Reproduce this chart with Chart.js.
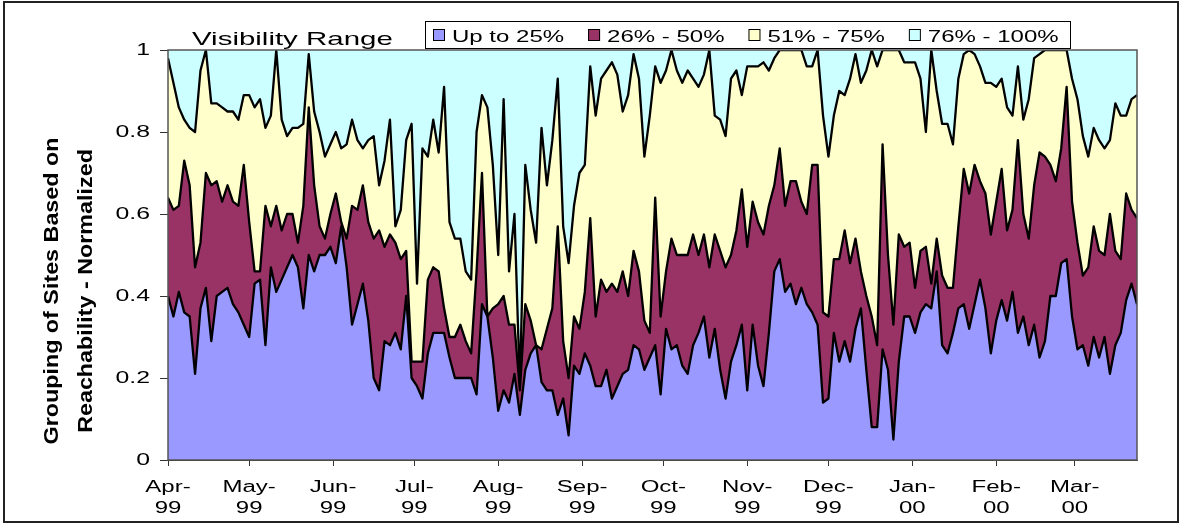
<!DOCTYPE html>
<html>
<head>
<meta charset="utf-8">
<title>Visibility Range</title>
<script src="https://cdn.jsdelivr.net/npm/chart.js@4.4.0/dist/chart.umd.min.js"></script>
<style>
  html, body { margin: 0; padding: 0; background: #fff; }
  #wrap { position: relative; width: 1183px; height: 529px; }
</style>
</head>
<body>
<div id="wrap"><canvas id="visChart" width="1183" height="529"></canvas></div>
<script>
// series names and colours (Excel classic palette)
const seriesNames = ["Up to 25%", "26% - 50%", "51% - 75%", "76% - 100%"];
const seriesColors = ["#9999ff", "#993366", "#ffffcc", "#ccffff"];

// month ticks: day offset from 1 Apr 1999 and two-line labels
const monthStartDays = [0, 30, 61, 91, 122, 153, 183, 214, 244, 275, 306, 335];
const monthLabels = [
  ["Apr-", "99"], ["May-", "99"], ["Jun-", "99"], ["Jul-", "99"],
  ["Aug-", "99"], ["Sep-", "99"], ["Oct-", "99"], ["Nov-", "99"],
  ["Dec-", "99"], ["Jan-", "00"], ["Feb-", "00"], ["Mar-", "00"]
];
const yTickLabels = ["0", "0.2", "0.4", "0.6", "0.8", "1"];

// cumulative shares, one sample every 2 days
const upTo25 = [
  0.40,0.35,0.41,0.36,0.35,0.21,0.37,0.42,0.29,0.40,
  0.41,0.42,0.38,0.36,0.33,0.30,0.43,0.44,0.28,0.47,
  0.41,0.44,0.47,0.50,0.47,0.37,0.50,0.46,0.50,0.50,
  0.52,0.48,0.57,0.47,0.33,0.38,0.43,0.34,0.20,0.17,
  0.29,0.28,0.31,0.27,0.40,0.20,0.18,0.15,0.26,0.31,
  0.31,0.31,0.25,0.20,0.20,0.20,0.20,0.16,0.38,0.35,
  0.25,0.12,0.17,0.14,0.21,0.11,0.22,0.26,0.28,0.19,
  0.17,0.17,0.11,0.15,0.06,0.23,0.21,0.26,0.23,0.18,
  0.18,0.22,0.15,0.18,0.21,0.22,0.28,0.27,0.22,0.25,
  0.28,0.16,0.32,0.27,0.28,0.23,0.21,0.28,0.31,0.35,
  0.25,0.32,0.22,0.15,0.24,0.28,0.33,0.17,0.33,0.23,
  0.18,0.31,0.46,0.49,0.41,0.43,0.38,0.42,0.38,0.36,
  0.33,0.14,0.15,0.31,0.24,0.29,0.24,0.32,0.37,0.22,
  0.08,0.08,0.27,0.22,0.05,0.24,0.35,0.35,0.31,0.36,
  0.38,0.37,0.46,0.28,0.26,0.31,0.37,0.38,0.32,0.38,
  0.44,0.37,0.26,0.34,0.39,0.34,0.41,0.31,0.35,0.28,
  0.33,0.25,0.29,0.40,0.40,0.48,0.49,0.35,0.27,0.28,
  0.23,0.30,0.25,0.30,0.21,0.28,0.31,0.39,0.43,0.38
];
const upTo50 = [
  0.64,0.61,0.62,0.73,0.67,0.47,0.53,0.70,0.67,0.68,
  0.63,0.67,0.63,0.62,0.72,0.58,0.46,0.46,0.62,0.57,
  0.62,0.56,0.60,0.60,0.53,0.62,0.86,0.67,0.57,0.54,
  0.60,0.65,0.58,0.54,0.62,0.61,0.67,0.58,0.54,0.56,
  0.52,0.55,0.53,0.49,0.51,0.24,0.24,0.24,0.44,0.47,
  0.46,0.37,0.30,0.30,0.33,0.29,0.26,0.46,0.70,0.35,
  0.37,0.38,0.40,0.33,0.33,0.17,0.38,0.34,0.28,0.27,
  0.32,0.37,0.57,0.29,0.20,0.35,0.32,0.41,0.59,0.35,
  0.44,0.41,0.43,0.41,0.46,0.40,0.51,0.46,0.34,0.31,
  0.64,0.35,0.46,0.54,0.50,0.50,0.50,0.55,0.50,0.55,
  0.47,0.55,0.51,0.47,0.50,0.56,0.66,0.52,0.63,0.58,
  0.55,0.62,0.67,0.76,0.62,0.68,0.68,0.63,0.60,0.72,
  0.72,0.36,0.35,0.49,0.49,0.56,0.48,0.54,0.46,0.40,
  0.35,0.28,0.77,0.50,0.33,0.55,0.52,0.53,0.42,0.51,
  0.52,0.43,0.54,0.45,0.42,0.42,0.57,0.71,0.65,0.72,
  0.68,0.65,0.55,0.63,0.71,0.56,0.61,0.78,0.60,0.54,
  0.67,0.75,0.74,0.72,0.68,0.76,0.91,0.63,0.53,0.45,
  0.47,0.57,0.51,0.50,0.60,0.51,0.49,0.65,0.61,0.59
];
const upTo75 = [
  0.98,0.92,0.86,0.83,0.81,0.80,0.95,1.00,0.87,0.87,
  0.86,0.85,0.85,0.83,0.89,0.89,0.86,0.88,0.81,0.84,
  1.00,0.83,0.79,0.81,0.81,0.82,0.99,0.85,0.80,0.74,
  0.77,0.80,0.76,0.77,0.83,0.78,0.76,0.78,0.79,0.67,
  0.73,0.83,0.57,0.61,0.78,0.82,0.43,0.76,0.74,0.83,
  0.75,0.91,0.58,0.54,0.54,0.46,0.44,0.80,0.89,0.86,
  0.72,0.50,0.88,0.46,0.60,0.18,0.72,0.61,0.53,0.81,
  0.67,0.78,0.93,0.57,0.48,0.62,0.70,0.72,0.96,0.84,
  0.93,0.95,0.97,0.94,0.85,0.89,0.99,0.93,0.74,0.84,
  0.96,0.92,0.95,1.00,0.95,0.92,0.95,0.93,0.91,0.94,
  1.00,0.84,0.83,0.79,0.93,0.95,0.89,0.96,0.96,0.96,
  0.97,0.95,0.98,1.00,1.00,1.00,1.00,1.00,0.96,0.96,
  1.00,0.84,0.74,0.84,0.90,0.89,0.93,0.99,0.92,0.95,
  1.00,0.96,1.00,1.00,1.00,1.00,0.97,0.97,0.97,0.93,
  0.80,1.00,0.90,0.82,0.82,0.77,0.93,0.99,1.00,0.99,
  0.96,0.92,0.92,0.91,0.93,0.86,0.84,0.96,0.83,0.88,
  0.98,0.99,1.00,1.00,1.00,1.00,1.00,0.93,0.88,0.79,
  0.74,0.81,0.78,0.76,0.78,0.87,0.84,0.84,0.88,0.89
];

// sample days (every second day) and the normalised total
const sampleDays = upTo25.map((v, i) => i * 2);
const total = upTo25.map(() => 1);

function toPoints(values) {
  return values.map((v, i) => ({ x: sampleDays[i], y: v }));
}

// draw text stretched horizontally, like the scaled-up original
function drawText(ctx, text, x, y, font, sx, align, baseline) {
  ctx.save();
  ctx.translate(x, y);
  ctx.scale(sx, 1);
  ctx.font = font;
  ctx.fillStyle = "#000";
  ctx.textAlign = align || "left";
  ctx.textBaseline = baseline || "alphabetic";
  ctx.fillText(text, 0, 0);
  ctx.restore();
}

const FONT = "'Liberation Sans', Arial, sans-serif";

const decorPlugin = {
  id: "decor",
  afterDraw(chart) {
    const ctx = chart.ctx;
    const area = chart.chartArea;
    const xs = chart.scales.x;
    const ys = chart.scales.y;

    // plot frame
    ctx.save();
    ctx.strokeStyle = "#555";
    ctx.lineWidth = 1.5;
    ctx.strokeRect(area.left, area.top, area.right - area.left, area.bottom - area.top);
    // outer frame
    ctx.strokeStyle = "#222";
    ctx.lineWidth = 2;
    ctx.strokeRect(4, 2, 1174, 520);
    ctx.restore();

    // y tick labels
    ys.ticks.forEach((t, i) => {
      drawText(ctx, yTickLabels[i], 150, ys.getPixelForValue(t.value) + 1,
        "16px " + FONT, 1.55, "right", "middle");
    });

    // x tick labels
    monthStartDays.forEach((d, i) => {
      const px = xs.getPixelForValue(d);
      drawText(ctx, monthLabels[i][0], px, 492, "16px " + FONT, 1.5, "center");
      drawText(ctx, monthLabels[i][1], px, 513, "16px " + FONT, 1.5, "center");
    });

    // y axis title, two rotated lines
    ctx.save();
    ctx.font = "bold 20px " + FONT;
    const w1 = ctx.measureText("Grouping of Sites Based on").width;
    const stretch = 307 / w1;
    [["Grouping of Sites Based on", 52], ["Reachability - Normalized", 86]].forEach(([txt, x]) => {
      ctx.save();
      ctx.translate(x, 291);
      ctx.rotate(-Math.PI / 2);
      ctx.scale(stretch, 1);
      ctx.font = "bold 20px " + FONT;
      ctx.fillStyle = "#000";
      ctx.textAlign = "center";
      ctx.textBaseline = "middle";
      ctx.fillText(txt, 0, 0);
      ctx.restore();
    });
    ctx.restore();

    // chart title
    drawText(ctx, "Visibility Range", 192, 45, "19px " + FONT, 1.55, "left");

    // legend
    ctx.save();
    ctx.fillStyle = "#fff";
    ctx.fillRect(425, 21, 645, 27);
    ctx.strokeStyle = "#000";
    ctx.lineWidth = 1;
    ctx.strokeRect(425.5, 21.5, 645, 27);
    ctx.restore();
    let lx = 433;
    seriesNames.forEach((name, i) => {
      ctx.save();
      ctx.fillStyle = seriesColors[i];
      ctx.fillRect(lx, 29, 12, 12);
      ctx.strokeStyle = "#000";
      ctx.lineWidth = 1;
      ctx.strokeRect(lx + 0.5, 29.5, 11, 11);
      ctx.restore();
      ctx.font = "16px " + FONT;
      const tw = ctx.measureText(name).width * 1.5;
      drawText(ctx, name, lx + 19, 42, "16px " + FONT, 1.5, "left");
      lx += 19 + tw + 24;
    });
  }
};

const lineStyle = {
  borderColor: "#000",
  borderWidth: 2.3,
  pointRadius: 0,
  tension: 0,
  borderJoinStyle: "round"
};

new Chart(document.getElementById("visChart"), {
  type: "line",
  data: {
    datasets: [
      { label: seriesNames[0], data: toPoints(upTo25), backgroundColor: seriesColors[0], fill: "origin", ...lineStyle },
      { label: seriesNames[1], data: toPoints(upTo50), backgroundColor: seriesColors[1], fill: "-1", ...lineStyle },
      { label: seriesNames[2], data: toPoints(upTo75), backgroundColor: seriesColors[2], fill: "-1", ...lineStyle },
      { label: seriesNames[3], data: toPoints(total), backgroundColor: seriesColors[3], fill: "-1", ...lineStyle, borderWidth: 0 }
    ]
  },
  options: {
    responsive: false,
    devicePixelRatio: 1,
    animation: false,
    layout: { padding: { left: 160, right: 46, top: 50, bottom: 63 } },
    plugins: {
      legend: { display: false },
      tooltip: { enabled: false },
      title: { display: false }
    },
    scales: {
      x: {
        type: "linear",
        min: 0,
        max: sampleDays[sampleDays.length - 1],
        afterBuildTicks: (s) => { s.ticks = monthStartDays.map(v => ({ value: v })); },
        afterFit: (s) => { s.height = 6; },
        ticks: { display: false },
        grid: { drawOnChartArea: false, drawTicks: true, tickLength: 6, tickColor: "#333", lineWidth: 1 },
        border: { display: true, color: "#333", width: 1 }
      },
      y: {
        min: 0,
        max: 1,
        afterFit: (s) => { s.width = 8; },
        ticks: { display: false, stepSize: 0.2 },
        grid: { drawOnChartArea: false, drawTicks: true, tickLength: 8, tickColor: "#333", lineWidth: 1 },
        border: { display: true, color: "#333", width: 1 }
      }
    }
  },
  plugins: [decorPlugin]
});
</script>
</body>
</html>
